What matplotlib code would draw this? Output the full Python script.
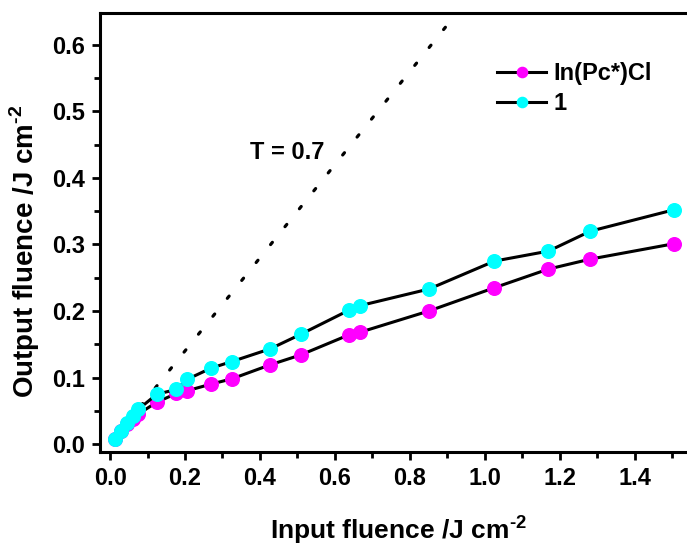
import numpy as np
import matplotlib.pyplot as plt
from matplotlib.ticker import MultipleLocator

plt.rcParams['font.family'] = ['Liberation Sans', 'DejaVu Sans']
plt.rcParams['font.weight'] = 'bold'
plt.rcParams['mathtext.fontset'] = 'custom'
plt.rcParams['mathtext.rm'] = 'Liberation Sans:bold'
plt.rcParams['mathtext.bf'] = 'Liberation Sans:bold'

# Input fluence (J cm-2), shared by both samples
fluence_in = [0.013, 0.030, 0.045, 0.060, 0.075, 0.125, 0.177, 0.205, 0.269,
              0.325, 0.427, 0.509, 0.637, 0.667, 0.851, 1.026, 1.170, 1.282, 1.504]

# Output fluence for In(Pc*)Cl
out_inpccl = [0.008, 0.020, 0.030, 0.038, 0.045, 0.063, 0.076, 0.080, 0.090,
              0.098, 0.119, 0.134, 0.164, 0.168, 0.200, 0.235, 0.263, 0.278, 0.301]

# Output fluence for compound 1
out_1 = [0.007, 0.020, 0.031, 0.042, 0.052, 0.075, 0.082, 0.097, 0.114,
         0.124, 0.143, 0.165, 0.201, 0.208, 0.233, 0.275, 0.290, 0.320, 0.352]

# linear transmittance reference line
T_lin = 0.7
ref_x = [0.005, 1.0]

fig = plt.figure(figsize=(6.87, 5.48), dpi=100)
ax = fig.add_axes([100 / 687, 96 / 548, 587 / 687, 439 / 548])

ax.plot(ref_x, [T_lin * v for v in ref_x], color='black', lw=2.3,
        linestyle=(0, (0.9, 6.3)), dash_capstyle='round')

ax.plot(fluence_in, out_inpccl, '-o', color='black', lw=2.2,
        markerfacecolor='#ff00ff', markeredgecolor='#ff00ff', markersize=9.8,
        label='In(Pc*)Cl')
ax.plot(fluence_in, out_1, '-o', color='black', lw=2.2,
        markerfacecolor='#00ffff', markeredgecolor='#00ffff', markersize=9.8,
        label='1')

ax.text(0.472, 0.439, 'T = 0.7', fontsize=17, fontweight='bold', ha='center', va='center')

ax.set_xlim(-0.027, 1.54)
ax.set_ylim(-0.012, 0.648)
ax.xaxis.set_minor_locator(MultipleLocator(0.1))
ax.yaxis.set_minor_locator(MultipleLocator(0.05))
ax.set_xticks(np.arange(0, 1.41, 0.2))
ax.set_yticks(np.arange(0, 0.61, 0.1))
ax.xaxis.set_major_formatter(plt.FormatStrFormatter('%.1f'))
ax.yaxis.set_major_formatter(plt.FormatStrFormatter('%.1f'))

ax.tick_params(which='major', direction='out', length=6, width=2, labelsize=17, pad=5)
ax.tick_params(which='minor', direction='out', length=4, width=2)
for side in ['left', 'bottom', 'top']:
    ax.spines[side].set_linewidth(2.2)
ax.spines['right'].set_visible(False)

ax.set_xlabel('Input fluence /J cm$^{\\text{-2}}$', fontsize=19, fontweight='bold')
ax.set_ylabel('Output fluence /J cm$^{\\text{-2}}$', fontsize=20, fontweight='bold')
ax.xaxis.set_label_coords(0.509, -0.139)
ax.yaxis.set_label_coords(-0.099, 0.458)

leg = ax.legend(loc='upper left', bbox_to_anchor=(0.676, 0.888), frameon=False,
                fontsize=17, handlelength=2.1, handletextpad=0.3, labelspacing=0.3,
                borderpad=0, borderaxespad=0, markerscale=0.75)
for t in leg.get_texts():
    t.set_fontweight('bold')

fig.savefig('out.png', dpi=100)
